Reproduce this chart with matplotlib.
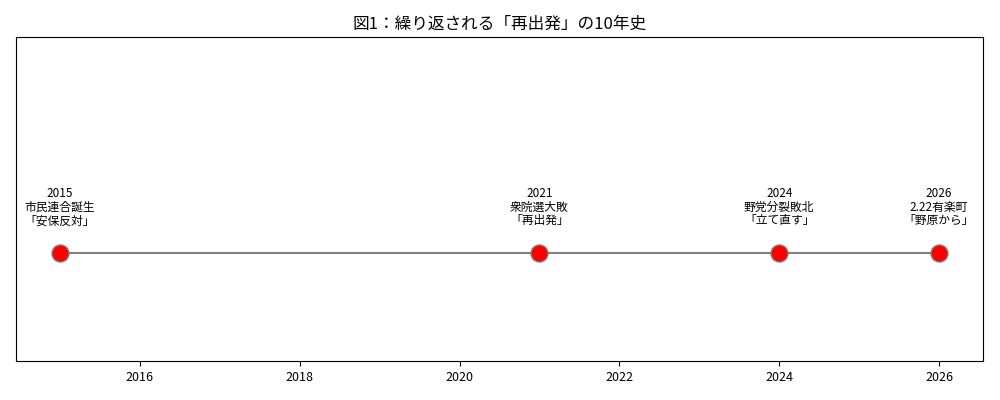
import matplotlib
matplotlib.use("Agg")
import matplotlib.pyplot as plt

plt.rcParams['font.family'] = ['Noto Sans CJK JP', 'DejaVu Sans']

years = [2015, 2021, 2024, 2026]
labels = [
    "2015\n市民連合誕生\n「安保反対」",
    "2021\n衆院選大敗\n「再出発」",
    "2024\n野党分裂敗北\n「立て直す」",
    "2026\n2.22有楽町\n「野原から」",
]
title = "図1：繰り返される「再出発」の10年史"

fig, ax = plt.subplots(figsize=(10, 4), dpi=100)
fig.subplots_adjust(left=0.016, right=0.983, top=0.907, bottom=0.097)

ax.plot(years, [0] * len(years), color='gray', linewidth=1.5, zorder=1)
ax.scatter(years, [0] * len(years), s=150, color='red', edgecolors='gray',
           linewidths=1, zorder=2)
for x, lab in zip(years, labels):
    ax.text(x, 0.12, lab, ha='center', va='bottom', fontsize=8.5, linespacing=1.05)

ax.set_ylim(-0.5, 1)
ax.set_yticks([])
ax.set_xticks([2016, 2018, 2020, 2022, 2024, 2026])
ax.tick_params(axis='x', labelsize=9)
ax.set_title(title, fontsize=12)

fig.savefig("out.png", dpi=100)
